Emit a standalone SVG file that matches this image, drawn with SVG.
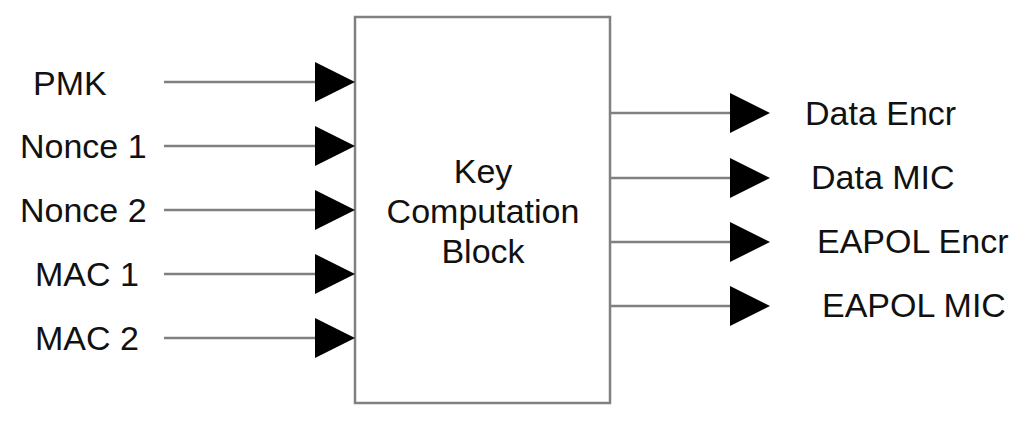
<svg xmlns="http://www.w3.org/2000/svg" width="1031" height="426" viewBox="0 0 1031 426">
  <style>
    .lbl { font-family: "Liberation Sans", Arial, sans-serif; font-size: 34px; fill: #111; }
    .wire { stroke: #808080; stroke-width: 2.5; fill: none; }
    .head { fill: #000; }
  </style>
  <rect width="1031" height="426" fill="#fff"/>
  <g id="block">
    <rect x="355" y="17" width="255" height="386" fill="#fff" stroke="#808080" stroke-width="2.5"/>
    <text class="lbl" x="483" y="183" text-anchor="middle">Key</text>
    <text class="lbl" x="483" y="223" text-anchor="middle">Computation</text>
    <text class="lbl" x="483" y="263" text-anchor="middle">Block</text>
  </g>
  <g id="inputs">
    <g id="in-pmk"><text class="lbl" x="33" y="95">PMK</text></g>
    <g id="in-nonce1"><text class="lbl" x="20" y="158">Nonce 1</text></g>
    <g id="in-nonce2"><text class="lbl" x="20" y="222">Nonce 2</text></g>
    <g id="in-mac1"><text class="lbl" x="35" y="286">MAC 1</text></g>
    <g id="in-mac2"><text class="lbl" x="35" y="350">MAC 2</text></g>
  </g>
  <g id="outputs">
    <g id="out-dataencr"><text class="lbl" x="805" y="125">Data Encr</text></g>
    <g id="out-datamic"><text class="lbl" x="811" y="189">Data MIC</text></g>
    <g id="out-eapolencr"><text class="lbl" x="817" y="253">EAPOL Encr</text></g>
    <g id="out-eapolmic"><text class="lbl" x="822" y="317">EAPOL MIC</text></g>
  </g>
  <g id="connectors">
    <line class="wire" x1="164" y1="82" x2="320" y2="82"/>
    <polygon class="head" points="315,62 355,82 315,102"/>
    <line class="wire" x1="164" y1="146" x2="320" y2="146"/>
    <polygon class="head" points="315,126 355,146 315,166"/>
    <line class="wire" x1="164" y1="210" x2="320" y2="210"/>
    <polygon class="head" points="315,190 355,210 315,230"/>
    <line class="wire" x1="164" y1="274" x2="320" y2="274"/>
    <polygon class="head" points="315,254 355,274 315,294"/>
    <line class="wire" x1="164" y1="338" x2="320" y2="338"/>
    <polygon class="head" points="315,318 355,338 315,358"/>

    <line class="wire" x1="610" y1="113" x2="735" y2="113"/>
    <polygon class="head" points="730,93 770,113 730,133"/>
    <line class="wire" x1="610" y1="178" x2="735" y2="178"/>
    <polygon class="head" points="730,158 770,178 730,198"/>
    <line class="wire" x1="610" y1="242" x2="735" y2="242"/>
    <polygon class="head" points="730,222 770,242 730,262"/>
    <line class="wire" x1="610" y1="306" x2="735" y2="306"/>
    <polygon class="head" points="730,286 770,306 730,326"/>
  </g>
</svg>
